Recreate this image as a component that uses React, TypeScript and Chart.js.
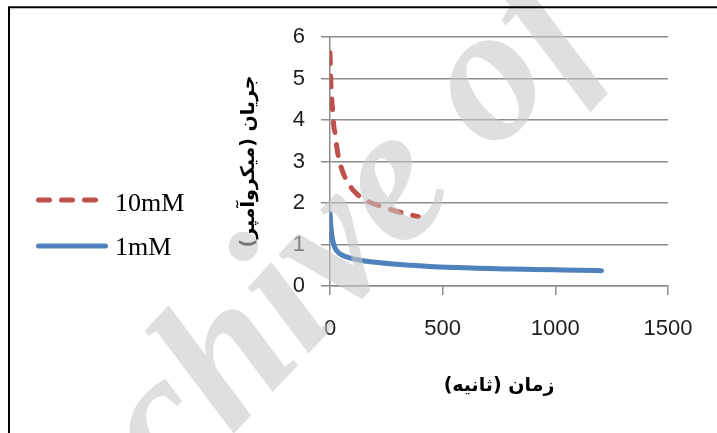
import { useEffect, useRef } from 'react';
import { Chart, registerables } from 'chart.js';

Chart.register(...registerables);

// 10 mM run: time (s) and current (µA)
const time10mM = [0, 3, 7, 12, 17, 22, 30, 38, 52, 70, 90, 115, 141, 185, 230, 270, 330, 392];
const current10mM = [5.62, 5.0, 4.57, 4.2, 3.85, 3.69, 3.35, 3.1, 2.82, 2.58, 2.4, 2.24, 2.12, 2.0, 1.91, 1.84, 1.75, 1.67];

// 1 mM run: time (s) and current (µA)
const time1mM = [0, 3, 7, 14, 22, 30, 45, 74, 100, 133, 200, 281, 360, 444, 520, 600, 710, 800, 900, 1000, 1100, 1205];
const current1mM = [1.75, 1.5, 1.27, 1.05, 0.92, 0.85, 0.77, 0.7, 0.66, 0.62, 0.57, 0.53, 0.5, 0.47, 0.45, 0.44, 0.42, 0.41, 0.4, 0.39, 0.38, 0.37];

const seriesNames = ['10mM', '1mM'];
const seriesColors = ['#C0504D', '#4F81BD'];

const xTitle = '\u200Fزمان (ثانیه)\u200F';
const yTitle = '\u200Fجریان (میکروآمپر)\u200F';
const watermarkText = 'Archive of SID';

const xMin = 0;
const xMax = 1500;
const xStep = 500;
const yMin = 0;
const yMax = 6;
const yStep = 1;

const toPoints = (xs: number[], ys: number[]) => xs.map((x, i) => ({ x, y: ys[i] }));

const GRID = '#8c8c8c';
const TICK_FONT = { family: '"Liberation Sans", Arial, sans-serif', size: 22 };
const TITLE_FONT = { family: '"DejaVu Sans", sans-serif', size: 19, weight: 'bold' as const };

// Legend drawn at the left of the plot: a line sample and the series name
const sideLegend = {
  id: 'sideLegend',
  afterDatasetsDraw(chart: any) {
    const ctx = chart.ctx as CanvasRenderingContext2D;
    const rows = [
      { y: 200, base: 211 },
      { y: 246, base: 255 },
    ];
    chart.data.datasets.forEach((ds: any, i: number) => {
      const r = rows[i];
      ctx.save();
      ctx.strokeStyle = ds.borderColor;
      ctx.lineWidth = 5;
      ctx.lineCap = 'round';
      ctx.setLineDash(ds.borderDash || []);
      ctx.beginPath();
      ctx.moveTo(38.5, r.y);
      ctx.lineTo(ds.borderDash && ds.borderDash.length ? 98 : 105.5, r.y);
      ctx.stroke();
      ctx.setLineDash([]);
      ctx.fillStyle = '#000';
      ctx.font = '26px "Liberation Serif", "Times New Roman", serif';
      ctx.textAlign = 'left';
      ctx.textBaseline = 'alphabetic';
      ctx.fillText(ds.label, 115, r.base);
      ctx.restore();
    });
  },
};

// Faint diagonal source mark over the plot, then the outer frame
const overlay = {
  id: 'overlay',
  afterDraw(chart: any) {
    const ctx = chart.ctx as CanvasRenderingContext2D;
    ctx.save();
    const size = 195;
    ctx.font = `italic bold ${size}px "Liberation Serif", serif`;
    const lead = ctx.measureText('Archive ').width + ctx.measureText('o').width / 2;
    const ang = (-47 * Math.PI) / 180;
    const ux = lead;
    const uy = -0.23 * size;
    const ox = 494 - (ux * Math.cos(ang) - uy * Math.sin(ang));
    const oy = 89 - (ux * Math.sin(ang) + uy * Math.cos(ang));
    ctx.translate(ox, oy);
    ctx.rotate(ang);
    ctx.fillStyle = 'rgba(200,200,200,0.58)';
    ctx.textAlign = 'left';
    ctx.textBaseline = 'alphabetic';
    ctx.fillText(watermarkText, 0, 0);
    ctx.restore();

    ctx.save();
    ctx.strokeStyle = '#000';
    ctx.lineWidth = 2;
    ctx.beginPath();
    ctx.moveTo(9, 440);
    ctx.lineTo(9, 7.3);
    ctx.lineTo(725, 7.3);
    ctx.stroke();
    ctx.restore();
  },
};

export default function App() {
  const canvasRef = useRef<HTMLCanvasElement | null>(null);

  useEffect(() => {
    const canvas = canvasRef.current;
    if (!canvas) return;
    const chart = new Chart(canvas, {
      type: 'line',
      data: {
        datasets: [
          {
            label: seriesNames[0],
            data: toPoints(time10mM, current10mM),
            borderColor: seriesColors[0],
            backgroundColor: seriesColors[0],
            borderWidth: 5,
            borderDash: [11, 12],
            borderCapStyle: 'round',
            pointRadius: 0,
            cubicInterpolationMode: 'monotone',
            fill: false,
          },
          {
            label: seriesNames[1],
            data: toPoints(time1mM, current1mM),
            borderColor: seriesColors[1],
            backgroundColor: seriesColors[1],
            borderWidth: 5,
            borderCapStyle: 'round',
            pointRadius: 0,
            cubicInterpolationMode: 'monotone',
            fill: false,
          },
        ],
      },
      options: {
        responsive: false,
        devicePixelRatio: 1,
        animation: false,
        layout: { padding: { left: 238, top: 37, right: 49, bottom: 0 } },
        plugins: {
          legend: { display: false },
          tooltip: { enabled: false },
        },
        scales: {
          x: {
            type: 'linear',
            min: xMin,
            max: xMax,
            afterFit: (s: any) => {
              s.height = 147;
            },
            ticks: {
              stepSize: xStep,
              font: TICK_FONT,
              color: '#1e1e1e',
              padding: 21,
              maxRotation: 0,
              callback: (v: any) => String(v),
            },
            grid: { drawOnChartArea: false, drawTicks: true, tickLength: 9, color: GRID, lineWidth: 1.5 },
            border: { display: true, color: GRID, width: 1.5 },
            title: { display: true, text: xTitle, font: TITLE_FONT, color: '#000', padding: { top: 0, bottom: 36 } },
          },
          y: {
            type: 'linear',
            min: yMin,
            max: yMax,
            afterFit: (s: any) => {
              s.width = 92;
            },
            ticks: { stepSize: yStep, font: TICK_FONT, color: '#1e1e1e', padding: 16, callback: (v: any) => String(v) },
            grid: { drawOnChartArea: true, drawTicks: true, tickLength: 9, color: GRID, lineWidth: 1.5 },
            border: { display: true, color: GRID, width: 1.5 },
            title: { display: true, text: yTitle, font: TITLE_FONT, color: '#000', padding: { top: 0, bottom: 0 } },
          },
        },
      },
      plugins: [sideLegend, overlay],
    } as any);
    return () => chart.destroy();
  }, []);

  return (
    <div style={{ position: 'fixed', left: 0, top: 0, width: 717, height: 433, background: '#fff' }}>
      <canvas ref={canvasRef} width={717} height={433} style={{ display: 'block' }} />
    </div>
  );
}
